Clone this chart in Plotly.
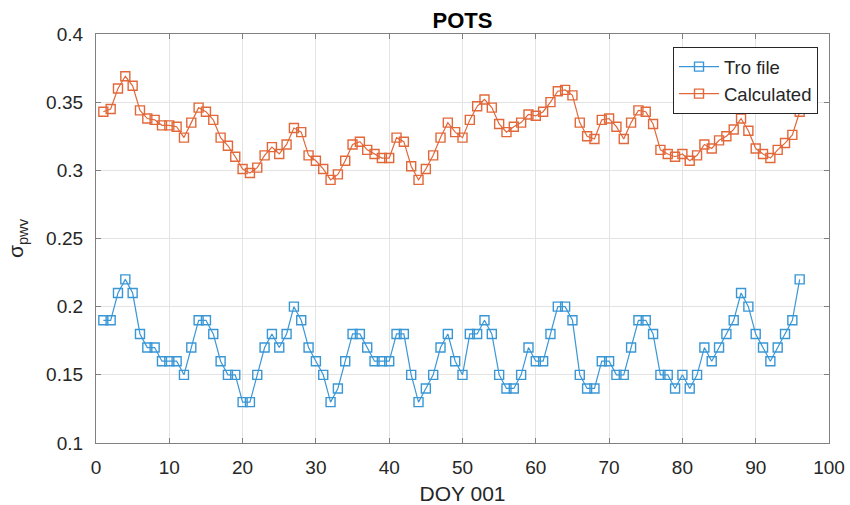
import plotly.graph_objects as go

doy = list(range(1, 97))

tro_file = [0.19, 0.19, 0.21, 0.22, 0.21, 0.18, 0.17, 0.17, 0.16, 0.16,
            0.16, 0.15, 0.17, 0.19, 0.19, 0.18, 0.16, 0.15, 0.15, 0.13,
            0.13, 0.15, 0.17, 0.18, 0.17, 0.18, 0.20, 0.19, 0.17, 0.16,
            0.15, 0.13, 0.14, 0.16, 0.18, 0.18, 0.17, 0.16, 0.16, 0.16,
            0.18, 0.18, 0.15, 0.13, 0.14, 0.15, 0.17, 0.18, 0.16, 0.15,
            0.18, 0.18, 0.19, 0.18, 0.15, 0.14, 0.14, 0.15, 0.17, 0.16,
            0.16, 0.18, 0.20, 0.20, 0.19, 0.15, 0.14, 0.14, 0.16, 0.16,
            0.15, 0.15, 0.17, 0.19, 0.19, 0.18, 0.15, 0.15, 0.14, 0.15,
            0.14, 0.15, 0.17, 0.16, 0.17, 0.18, 0.19, 0.21, 0.20, 0.18,
            0.17, 0.16, 0.17, 0.18, 0.19, 0.22]

calculated = [0.343, 0.345, 0.360, 0.369, 0.362, 0.344, 0.338, 0.337, 0.333, 0.333,
              0.332, 0.324, 0.335, 0.346, 0.343, 0.337, 0.324, 0.318, 0.310, 0.301,
              0.298, 0.302, 0.311, 0.317, 0.312, 0.319, 0.331, 0.328, 0.311, 0.307,
              0.301, 0.293, 0.297, 0.307, 0.319, 0.321, 0.315, 0.312, 0.309, 0.309,
              0.324, 0.321, 0.303, 0.293, 0.301, 0.311, 0.324, 0.335, 0.328, 0.324,
              0.337, 0.347, 0.352, 0.346, 0.334, 0.328, 0.332, 0.335, 0.341, 0.340,
              0.343, 0.350, 0.358, 0.359, 0.355, 0.335, 0.325, 0.323, 0.337, 0.338,
              0.332, 0.323, 0.335, 0.344, 0.343, 0.334, 0.315, 0.312, 0.310, 0.312,
              0.307, 0.311, 0.319, 0.316, 0.322, 0.325, 0.330, 0.338, 0.329, 0.316,
              0.312, 0.309, 0.315, 0.320, 0.326, 0.343]

y_ticks = [0.1, 0.15, 0.2, 0.25, 0.3, 0.35, 0.4]
y_tick_text = ["0.1", "0.15", "0.2", "0.25", "0.3", "0.35", "0.4"]
x_ticks = [0, 10, 20, 30, 40, 50, 60, 70, 80, 90, 100]

BLUE = "#3A97D6"
ORANGE = "#E2683A"
TXT = "#262626"
FONT = "Liberation Sans, Arial, sans-serif"

fig = go.Figure()
fig.add_trace(go.Scatter(
    x=doy, y=tro_file, mode="lines+markers", name="Tro file",
    line=dict(color=BLUE, width=1.2),
    marker=dict(symbol="square-open", size=9, color=BLUE, line=dict(width=1.4, color=BLUE)),
))
fig.add_trace(go.Scatter(
    x=doy, y=calculated, mode="lines+markers", name="Calculated",
    line=dict(color=ORANGE, width=1.2),
    marker=dict(symbol="square-open", size=9, color=ORANGE, line=dict(width=1.4, color=ORANGE)),
))

axis_common = dict(
    showline=True, linecolor="#808080", linewidth=1.2, mirror="ticks",
    ticks="inside", ticklen=5, tickcolor="#808080", tickwidth=1,
    showgrid=True, gridcolor="#E3E3E3", gridwidth=1, zeroline=False,
    automargin=False,
    tickfont=dict(family=FONT, size=19, color=TXT),
)

fig.update_layout(
    width=850, height=505,
    margin=dict(l=96, r=21, t=34, b=62),
    paper_bgcolor="white", plot_bgcolor="white",
    font=dict(family=FONT, color=TXT),
    title=dict(text="<b>POTS</b>", x=0.5, xref="paper", xanchor="center",
               y=1 - 20 / 505, yref="container", yanchor="middle",
               font=dict(family=FONT, size=22, color="#000000")),
    showlegend=True,
    legend=dict(x=0.985, y=0.968, xanchor="right", yanchor="top",
                bgcolor="white", bordercolor=TXT, borderwidth=1,
                font=dict(family=FONT, size=18.5, color=TXT),
                tracegroupgap=0, itemwidth=40),
)
fig.update_xaxes(range=[0, 100], tickvals=x_ticks, ticklabelstandoff=7,
                 title=dict(text="DOY 001", font=dict(family=FONT, size=21, color=TXT), standoff=9),
                 **axis_common)
fig.update_yaxes(range=[0.1, 0.4], tickvals=y_ticks, ticktext=y_tick_text, ticklabelstandoff=8,
                 title=dict(text="σ<sub>pwv</sub>", font=dict(family=FONT, size=21, color=TXT), standoff=16),
                 **axis_common)

fig.write_html("out.html", config={"displayModeBar": False},
               post_script="document.body.style.margin='0';")
